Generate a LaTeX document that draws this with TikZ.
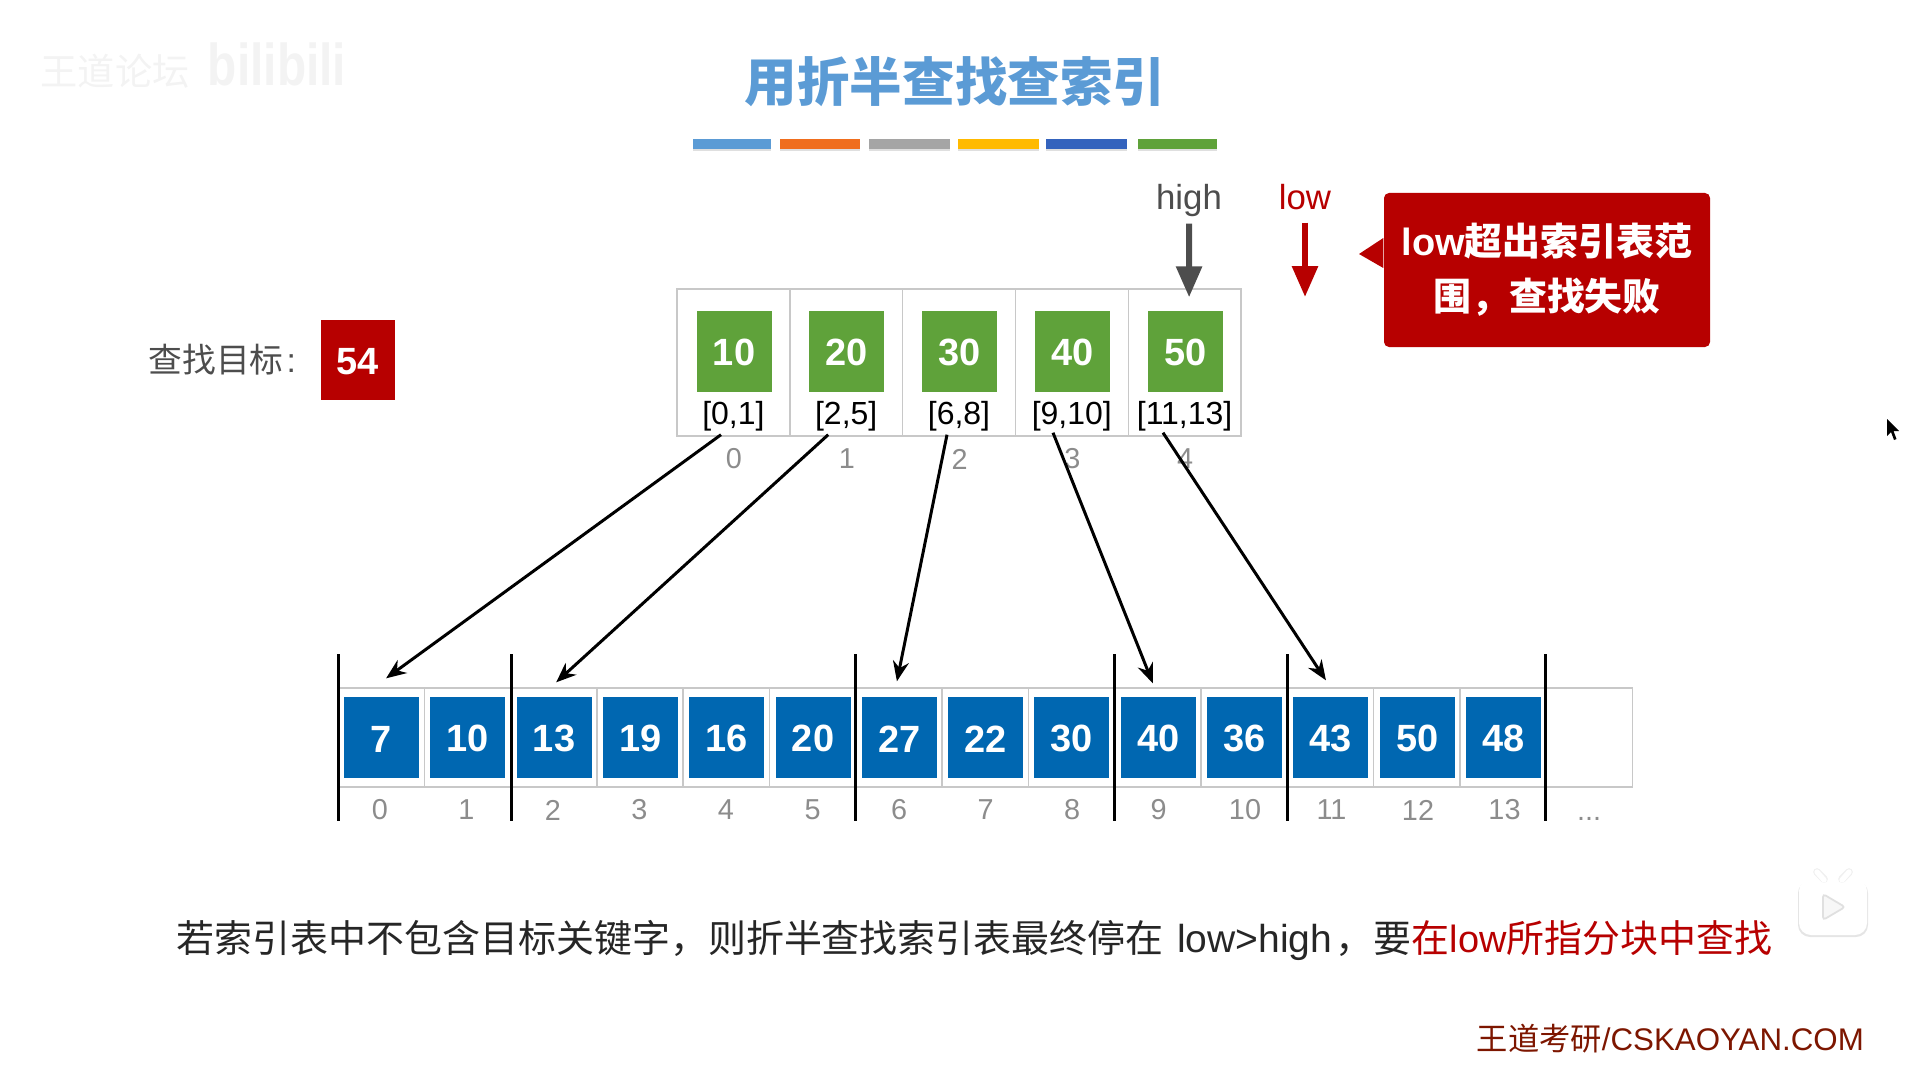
\documentclass[tikz,border=0pt]{standalone}
\usepackage{fontspec}
\setmainfont{Liberation Sans}
\newfontfamily\cjk{Noto Sans CJK SC}
\usetikzlibrary{arrows.meta, positioning, calc, shadows}
\definecolor{titleblue}{RGB}{91,155,213}
\definecolor{barorange}{RGB}{240,110,30}
\definecolor{bargray}{RGB}{165,165,165}
\definecolor{baryellow}{RGB}{255,186,0}
\definecolor{bardark}{RGB}{52,99,189}
\definecolor{indexgreen}{RGB}{95,162,58}
\definecolor{blockblue}{RGB}{0,103,177}
\definecolor{warnred}{RGB}{183,0,0}
\definecolor{darktext}{RGB}{77,77,77}
\definecolor{gridgray}{RGB}{200,200,200}
\definecolor{numgray}{RGB}{140,140,140}
\definecolor{footred}{RGB}{125,22,0}
\definecolor{faintmark}{RGB}{243,243,243}
\newcommand{\pxfont}[1]{\fontsize{#1pt}{1.2em}\selectfont}

\begin{document}
\begin{tikzpicture}[y=-1cm,
  bar/.style={minimum width=#1, minimum height=0.1cm, inner sep=0pt,
    drop shadow={opacity=0.25, shadow xshift=0cm, shadow yshift=-0.025cm}},
  cell/.style={draw=gridgray, line width=0.4pt, minimum height=#1, inner sep=0pt},
  tag/.style={inner sep=0pt, text=white, text height=0.29cm, font=\pxfont{10.8}\bfseries},
  gray num/.style={inner sep=0pt, text=numgray, font=\pxfont{8.2}},
  link/.style={-{Stealth[length=0.2cm, width=0.16cm]}, line width=0.85pt, black},
  ptr/.style={-{Triangle[length=0.31cm, width=0.25cm]}, line width=1.7pt},
  ptrlbl/.style={inner sep=0pt, anchor=base, text height=0.25cm, text depth=0.08cm, font=\pxfont{9.9}},
  divider/.style={line width=0.85pt, black}
]
  \useasboundingbox (0,0) rectangle (19.14,10.71);

  % Watermark
  \node[inner sep=0pt, text=faintmark] (forum) at (1.15,0.71) {\pxfont{10.6}\cjk 王道论坛};
  \node[inner sep=0pt, text=faintmark, xscale=0.81, font=\pxfont{16.8}\bfseries] (bili) at (2.77,0.64) {bilibili};

  % Title
  \node[inner sep=0pt, text=titleblue] (title) at (9.55,0.82) {\pxfont{14.95}\cjk\bfseries 用折半查找查索引};
  \node[bar=0.78cm, fill=titleblue] (bar1) at (7.32,1.44) {};
  \node[bar=0.80cm, fill=barorange] (bar2) at (8.20,1.44) {};
  \node[bar=0.81cm, fill=bargray] (bar3) at (9.095,1.44) {};
  \node[bar=0.81cm, fill=baryellow] (bar4) at (9.985,1.44) {};
  \node[bar=0.81cm, fill=bardark] (bar5) at (10.865,1.44) {};
  \node[bar=0.79cm, fill=indexgreen] (bar6) at (11.775,1.44) {};

  % Search target
  \node[inner sep=0pt, text=darktext, anchor=west] (goal) at (1.48,3.60) {\pxfont{9.6}{\cjk 查找目标}\hspace{0.03cm}:};
  \node[tag, fill=warnred, minimum width=0.74cm, minimum height=0.80cm] (key) at (3.575,3.60) {54};

  % Index table
  \foreach \v/\r [count=\i from 0] in {10/{[0,1]},20/{[2,5]},30/{[6,8]},40/{[9,10]},50/{[11,13]}} {
    \node[cell=1.47cm, minimum width=1.128cm] (cell\i) at ({7.334+1.128*\i},3.625) {};
    \node[tag, fill=indexgreen, minimum width=0.75cm, minimum height=0.81cm] (idx\i) at ({7.34+1.128*\i},3.515) {\v};
    \node[inner sep=0pt, font=\pxfont{9.1}] (rng\i) at ({7.334+1.128*\i},4.165) {\r};
    \node[gray num] (pos\i) at ({7.34+1.128*\i},4.59) {\i};
  }

  % high and low
  \node[ptrlbl, text=darktext] (high) at (11.89,2.10) {high};
  \node[ptrlbl, text=warnred] (low) at (13.05,2.10) {low};
  \coordinate (lowend) at (13.05,2.97);
  \draw[ptr, darktext] ([yshift=-0.05cm]high.south) -- ([xshift=0.045cm, yshift=-0.09cm]cell4.north);
  \draw[ptr, warnred] ([yshift=-0.04cm]low.south) -- (lowend);

  % Callout
  \node[fill=warnred, rounded corners=0.05cm, minimum width=3.26cm, minimum height=1.54cm,
    align=center, text=white, inner sep=0pt, font=\pxfont{10.8}\bfseries] (warn) at (15.47,2.70)
    {low{\cjk 超出索引表范}\\[0.13cm]{\cjk 围，查找失败}};
  \fill[warnred] ([yshift=0.32cm]warn.west) -- (13.59,2.54) -- ([yshift=0.02cm]warn.west) -- cycle;

  % Block table
  \foreach \v [count=\i from 0] in {7,10,13,19,16,20,27,22,30,40,36,43,50,48} {
    \node[cell=0.99cm, minimum width=0.863cm] (slot\i) at ({3.811+0.863*\i},7.375) {};
    \node[tag, fill=blockblue, minimum width=0.75cm, minimum height=0.81cm] (blk\i) at ({3.815+0.863*\i},7.375) {\v};
    \node[gray num] (num\i) at ({3.80+0.865*\i},8.10) {\i};
  }
  \node[cell=0.99cm, minimum width=0.863cm] (slot14) at (15.893,7.375) {};
  \node[inner sep=0pt, anchor=base, text=numgray, font=\pxfont{8.2}] (more) at (15.89,8.20) {...};

  \foreach \x in {3.385,5.11,8.55,11.14,12.87,15.45}
    \draw[divider] (\x,6.54) -- (\x,8.21);

  % Index entries to blocks
  \draw[link] ([xshift=-0.124cm, yshift=0.02cm]cell0.south) -- ([xshift=0.05cm, yshift=0.09cm]slot0.north);
  \draw[link] ([xshift=-0.18cm, yshift=0.02cm]cell1.south) -- ([xshift=0.025cm, yshift=0.05cm]slot2.north);
  \draw[link] ([xshift=-0.12cm, yshift=0.02cm]cell2.south) -- ([xshift=-0.02cm, yshift=0.06cm]slot6.north);
  \draw[link] ([xshift=-0.188cm, yshift=0.04cm]cell3.south) -- ([xshift=-0.05cm, yshift=0.04cm]slot9.north);
  \draw[link] ([xshift=-0.216cm, yshift=0.04cm]cell4.south) -- ([xshift=-0.045cm, yshift=0.07cm]slot11.north);

  % Bottom line
  \node[inner sep=0pt, anchor=west, text=black!85] (note) at (1.76,9.40)
    {\pxfont{10.8}{\cjk 若索引表中不包含目标关键字，则折半查找索引表最终停在}\hspace{0.03cm} {\pxfont{11.1}low>high}\hspace{0.035cm}{\cjk ，要}\textcolor{warnred}{{\cjk 在}low{\cjk 所指分块中查找}}};
  \node[inner sep=0pt, anchor=east, text=footred] (foot) at (18.645,10.39)
    {\pxfont{8.9}{\cjk 王道考研}/CSKAOYAN.COM};

  % Player icon and pointer
  \fill[black!10, rounded corners=0.12cm] (17.98,8.81) rectangle (18.68,9.37);
  \fill[white, rounded corners=0.12cm] (17.99,8.79) rectangle (18.67,9.35);
  \draw[black!6, line width=2.2pt, line cap=round] (18.17,8.72) -- (18.24,8.79) (18.49,8.72) -- (18.42,8.79);
  \draw[white, line width=1.5pt, line cap=round] (18.17,8.72) -- (18.24,8.80) (18.49,8.72) -- (18.42,8.80);
  \draw[black!12, fill=black!3, line width=0.5pt, rounded corners=0.03cm] (18.23,8.94) -- (18.45,9.07) -- (18.23,9.20) -- cycle;
  \fill[black] (18.87,4.19) -- (18.87,4.36) -- (18.91,4.32) -- (18.94,4.40) -- (18.965,4.39) -- (18.935,4.31) -- (18.99,4.31) -- cycle;
\end{tikzpicture}
\end{document}
